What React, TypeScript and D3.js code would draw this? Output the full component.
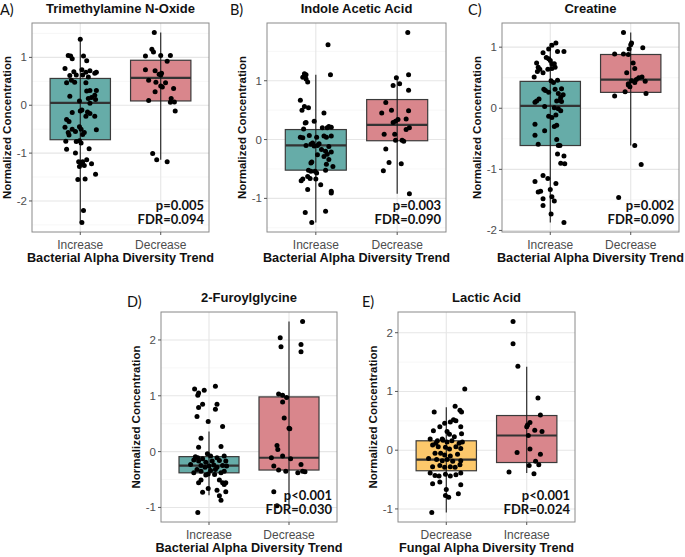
import React from "react";
import * as d3 from "d3";

// ---------- DATA (jitter in category units, value) ----------
const aIncrease: [number, number][] = [
  [0.0, 1.38], [-0.15, 1.04], [-0.12, 1.03], [-0.1, 0.97], [0.04, 1.03], [0.08, 0.93], [-0.19, 0.77], [-0.08, 0.7],
  [0.02, 0.74], [0.07, 0.69], [0.12, 0.72], [0.2, 0.69], [0.18, 0.67], [-0.13, 0.62], [-0.05, 0.63], [0.03, 0.63],
  [0.1, 0.59], [-0.17, 0.47], [-0.11, 0.52], [0.07, 0.47], [-0.07, 0.48], [0.12, 0.31], [0.2, 0.31], [0.08, 0.3],
  [0.18, 0.21], [-0.13, 0.19], [0.14, 0.16], [0.1, 0.14], [0.19, 0.12], [-0.01, 0.09], [0.12, 0.04], [-0.1, -0.15],
  [0.0, -0.12], [0.02, -0.1], [0.09, -0.14], [0.12, -0.17], [0.18, -0.23], [0.07, -0.23], [-0.17, -0.3], [-0.14, -0.34],
  [0.2, -0.51], [-0.19, -0.46], [-0.1, -0.5], [-0.15, -0.57], [-0.14, -0.62], [-0.01, -0.45], [0.01, -0.5], [-0.06, -0.55],
  [0.05, -0.57], [0.03, -0.61], [-0.05, -0.76], [-0.01, -0.74], [0.01, -0.79], [-0.18, -0.75], [-0.17, -0.92], [0.11, -0.91],
  [-0.06, -1.0], [-0.02, -1.18], [0.01, -1.22], [0.03, -1.18], [0.08, -1.14], [-0.01, -1.28], [0.05, -1.26], [0.14, -1.22],
  [0.19, -1.44], [0.06, -1.54], [-0.03, -1.55], [0.04, -2.2], [0.02, -2.45],
];
const aDecrease: [number, number][] = [
  [-0.08, 1.52], [-0.11, 1.17], [-0.09, 1.11], [-0.19, 1.03], [0.0, 1.04], [0.12, 1.04], [0.08, 0.92], [-0.19, 0.74],
  [-0.07, 0.72], [-0.02, 0.65], [0.01, 0.67], [0.0, 0.63], [-0.15, 0.52], [-0.06, 0.48], [0.06, 0.47], [0.0, 0.4],
  [0.02, 0.38], [0.16, 0.35], [-0.07, 0.28], [0.13, 0.14], [-0.15, 0.1], [0.12, 0.06], [0.17, 0.07], [0.18, -0.12],
  [-0.1, -1.01], [-0.05, -1.14], [0.08, -1.18],
];
const bIncrease: [number, number][] = [
  [0.15, 1.61], [-0.14, 1.12], [-0.12, 1.1], [-0.16, 1.06], [-0.12, 1.03], [-0.1, 0.98], [0.18, 1.1], [-0.19, 0.67],
  [-0.14, 0.56], [-0.09, 0.54], [-0.17, 0.5], [0.1, 0.45], [-0.12, 0.29], [-0.13, 0.28], [-0.02, 0.31], [-0.15, 0.18],
  [0.08, 0.2], [0.14, 0.2], [0.19, 0.21], [0.16, 0.22], [-0.19, 0.04], [-0.16, 0.03], [-0.08, 0.07], [0.01, 0.04],
  [0.1, 0.06], [0.13, 0.04], [0.19, 0.06], [-0.12, -0.1], [-0.06, -0.08], [-0.02, -0.11], [0.02, -0.1], [0.04, -0.07],
  [-0.04, -0.06], [0.16, -0.12], [0.07, -0.17], [0.12, -0.2], [0.19, -0.21], [0.14, -0.25], [0.02, -0.26], [0.1, -0.29],
  [-0.05, -0.38], [-0.06, -0.4], [0.16, -0.34], [0.13, -0.42], [0.21, -0.46], [-0.09, -0.52], [-0.06, -0.54], [-0.01, -0.54],
  [0.01, -0.57], [0.12, -0.52], [-0.16, -0.67], [-0.18, -0.7], [-0.1, -0.63], [-0.07, -0.66], [0.0, -0.67], [0.06, -0.77],
  [-0.1, -0.85], [0.19, -0.88], [0.19, -0.91], [-0.13, -1.24], [0.12, -1.22], [-0.05, -1.41],
];
const bDecrease: [number, number][] = [
  [0.13, 1.82], [0.14, 1.1], [-0.01, 1.05], [0.03, 0.95], [-0.05, 0.92], [0.14, 0.84], [-0.14, 0.63], [-0.07, 0.5],
  [0.14, 0.49], [-0.19, 0.45], [0.01, 0.34], [0.11, 0.35], [-0.02, 0.31], [-0.05, 0.29], [0.15, 0.2], [0.11, 0.17],
  [-0.16, 0.09], [-0.03, 0.09], [0.06, -0.01], [0.08, -0.03], [-0.02, -0.01], [-0.14, -0.16], [-0.1, -0.39], [0.05, -0.41],
  [-0.17, -0.53], [0.15, -0.92],
];
const cIncrease: [number, number][] = [
  [0.07, 1.07], [0.02, 1.03], [-0.02, 0.97], [0.09, 0.93], [0.17, 0.93], [-0.09, 0.91], [-0.05, 0.83], [-0.02, 0.81],
  [0.0, 0.78], [-0.17, 0.74], [0.02, 0.73], [0.05, 0.73], [-0.15, 0.67], [-0.13, 0.64], [-0.16, 0.6], [-0.09, 0.58],
  [-0.03, 0.64], [0.02, 0.65], [0.06, 0.67], [-0.2, 0.51], [0.01, 0.45], [0.04, 0.42], [0.09, 0.46], [-0.08, 0.31],
  [-0.06, 0.29], [0.06, 0.31], [0.14, 0.32], [-0.02, 0.26], [0.1, 0.24], [0.16, 0.22], [0.13, 0.18], [0.12, 0.13],
  [-0.14, 0.15], [-0.17, 0.12], [-0.19, 0.1], [0.08, 0.12], [0.14, 0.11], [-0.07, 0.03], [0.05, 0.01], [0.1, -0.01],
  [0.13, -0.04], [-0.02, -0.13], [0.02, -0.15], [0.07, -0.11], [0.08, -0.28], [0.05, -0.3], [-0.19, -0.26], [-0.19, -0.44],
  [-0.07, -0.37], [0.08, -0.51], [-0.15, -0.59], [0.1, -0.61], [0.12, -0.61], [0.09, -0.75], [0.17, -0.78], [0.13, -0.9],
  [0.18, -0.91], [-0.09, -1.1], [-0.19, -1.2], [-0.03, -1.15], [0.07, -1.23], [-0.15, -1.37], [-0.12, -1.36], [-0.09, -1.48],
  [0.0, -1.33], [0.02, -1.45], [0.05, -1.52], [-0.09, -1.59], [0.01, -1.73], [0.17, -1.87],
];
const cDecrease: [number, number][] = [
  [-0.09, 1.24], [0.01, 1.07], [0.0, 1.04], [0.15, 0.99], [-0.2, 0.89], [-0.09, 0.89], [-0.02, 0.97], [-0.03, 0.88],
  [0.03, 0.74], [0.05, 0.65], [-0.05, 0.58], [0.14, 0.51], [0.1, 0.5], [0.07, 0.47], [0.01, 0.45], [0.18, 0.44],
  [0.05, 0.42], [-0.03, 0.4], [-0.01, 0.35], [-0.03, 0.38], [-0.07, 0.27], [0.19, 0.24], [-0.2, 0.2], [0.05, -0.61],
  [0.13, -0.92], [-0.15, -1.46],
];
const dIncrease: [number, number][] = [
  [0.08, 1.17], [-0.18, 1.12], [-0.06, 1.1], [-0.13, 1.05], [-0.14, 1.01], [0.1, 0.85], [-0.08, 0.85], [-0.13, 0.79],
  [0.08, 0.76], [-0.15, 0.63], [-0.01, 0.54], [0.17, 0.45], [-0.1, 0.24], [-0.13, 0.08], [0.15, 0.09], [-0.17, -0.09],
  [-0.14, -0.11], [-0.02, -0.04], [0.02, -0.08], [0.1, -0.11], [0.19, -0.08], [-0.19, -0.15], [-0.13, -0.17], [-0.08, -0.13],
  [-0.04, -0.19], [0.04, -0.17], [0.13, -0.16], [0.21, -0.17], [-0.23, -0.23], [-0.1, -0.25], [-0.05, -0.28], [0.0, -0.26],
  [0.06, -0.24], [0.1, -0.28], [0.17, -0.25], [0.22, -0.26], [-0.15, -0.32], [-0.1, -0.35], [0.02, -0.34], [0.08, -0.32],
  [0.19, -0.35], [-0.19, -0.38], [-0.04, -0.42], [-0.01, -0.4], [0.07, -0.41], [0.15, -0.38], [-0.1, -0.51], [-0.13, -0.56],
  [0.13, -0.51], [0.17, -0.56], [0.19, -0.59], [0.21, -0.56], [-0.01, -0.66], [0.1, -0.69], [0.21, -0.72], [-0.08, -0.73],
  [0.13, -0.79], [0.15, -0.87], [-0.14, -1.09],
];
const dDecrease: [number, number][] = [
  [0.17, 2.33], [-0.11, 2.04], [-0.1, 1.88], [0.15, 1.92], [0.15, 1.79], [-0.13, 1.03], [-0.08, 1.01], [-0.03, 0.97],
  [-0.08, 0.89], [-0.06, 0.6], [0.0, 0.42], [0.01, 0.41], [-0.15, 0.11], [-0.14, 0.04], [-0.08, -0.08], [0.02, -0.13],
  [-0.22, -0.11], [-0.19, -0.26], [-0.13, -0.33], [-0.04, -0.35], [0.11, -0.38], [0.15, -0.23], [0.17, -0.35], [0.2, -0.36],
  [-0.19, -0.72], [-0.15, -0.97],
];
const eDecrease: [number, number][] = [
  [0.23, 1.04], [0.11, 0.75], [-0.15, 0.65], [0.17, 0.68], [0.19, 0.65], [0.09, 0.52], [0.12, 0.5], [-0.02, 0.46],
  [0.05, 0.48], [-0.08, 0.4], [0.18, 0.4], [-0.16, 0.33], [0.01, 0.32], [0.04, 0.27], [0.19, 0.28], [0.1, 0.23],
  [-0.2, 0.19], [-0.05, 0.19], [-0.11, 0.16], [-0.04, 0.17], [-0.13, 0.12], [0.01, 0.14], [0.07, 0.16], [0.16, 0.12],
  [0.2, 0.14], [-0.17, 0.09], [-0.1, 0.06], [-0.01, 0.05], [0.04, 0.02], [0.12, 0.06], [0.18, 0.03], [-0.14, -0.05],
  [-0.07, -0.05], [-0.02, -0.08], [0.05, -0.1], [0.14, -0.07], [-0.22, -0.14], [-0.12, -0.16], [-0.05, -0.18], [0.01, -0.16],
  [0.08, -0.19], [0.18, -0.18], [-0.17, -0.28], [-0.08, -0.26], [-0.02, -0.29], [0.05, -0.28], [0.11, -0.29], [0.17, -0.25],
  [-0.2, -0.39], [-0.14, -0.43], [-0.09, -0.44], [-0.01, -0.41], [0.05, -0.44], [0.12, -0.42], [0.18, -0.39], [-0.17, -0.57],
  [-0.08, -0.54], [0.18, -0.59], [0.0, -0.67], [-0.01, -0.77], [0.03, -0.8], [0.15, -0.74], [-0.18, -1.06],
];
const eIncrease: [number, number][] = [
  [-0.17, 2.19], [-0.17, 1.81], [-0.11, 1.43], [0.14, 0.89], [0.17, 0.6], [0.04, 0.47], [0.01, 0.43], [0.0, 0.4],
  [0.1, 0.34], [0.19, 0.32], [0.02, 0.25], [0.04, 0.02], [-0.12, -0.04], [0.17, -0.07], [0.11, -0.19], [0.15, -0.25],
  [0.03, -0.26], [-0.22, -0.37], [0.09, -0.4],
];

// box statistics: [lower whisker, Q1, median, Q3, upper whisker]
const aIncreaseBox = [-2.45, -0.72, 0.05, 0.56, 1.38];
const aDecreaseBox = [-1.14, 0.09, 0.57, 0.94, 1.52];
const bIncreaseBox = [-1.41, -0.52, -0.1, 0.17, 1.1];
const bDecreaseBox = [-0.92, -0.02, 0.25, 0.68, 1.05];
const cIncreaseBox = [-1.87, -0.61, 0.04, 0.44, 1.07];
const cDecreaseBox = [-0.61, 0.26, 0.47, 0.88, 1.24];
const dIncreaseBox = [-0.78, -0.38, -0.25, -0.09, 0.36];
const dDecreaseBox = [-0.97, -0.33, -0.11, 0.98, 2.33];
const eDecreaseBox = [-1.06, -0.35, -0.16, 0.16, 0.73];
const eIncreaseBox = [-0.39, -0.21, 0.25, 0.59, 1.42];

const bacterialCategories = ["Increase", "Decrease"];
const fungalCategories = ["Decrease", "Increase"];
const yTicksA = [-2, -1, 0, 1];
const yTicksB = [-1, 0, 1];
const yTicksC = [-2, -1, 0, 1];
const yTicksD = [-1, 0, 1, 2];
const yTicksE = [-1, 0, 1, 2];

const TEAL = "#66aca8";
const PINK = "#d9868c";
const YELLOW = "#fcc86b";

type Group = { pts: [number, number][]; box: number[]; fill: string };
type PanelProps = {
  left: number; right: number; top: number; bottom: number;
  letter: string; letterX: number; letterY: number;
  title: string; cats: string[]; groups: Group[]; yTicks: number[];
  xTitle: string; pText: string; fdrText: string;
};

function Panel(p: PanelProps) {
  const all: number[] = [];
  p.groups.forEach((g) => { g.pts.forEach((d) => all.push(d[1])); all.push(g.box[0], g.box[4]); });
  const [mn, mx] = d3.extent(all) as [number, number];
  const pad = (mx - mn) * 0.05;
  const y = d3.scaleLinear().domain([mn - pad, mx + pad]).range([p.bottom, p.top]);
  const x = d3.scaleLinear().domain([0.4, 2.6]).range([p.left, p.right]);
  const minor: number[] = [];
  const step = p.yTicks[1] - p.yTicks[0];
  [p.yTicks[0] - step, ...p.yTicks].forEach((t) => {
    const m = t + step / 2;
    if (m > mn - pad && m < mx + pad) minor.push(m);
  });
  const cx = (p.left + p.right) / 2;
  const cy = (p.top + p.bottom) / 2;
  const bw = x(1.375) - x(1);
  return (
    <g>
      <text x={p.letterX} y={p.letterY} fontFamily="Lato, 'Open Sans', sans-serif" fontSize={14.5} fill="#111">{p.letter}</text>
      <text x={cx} y={p.top - 10} textAnchor="middle" fontFamily="'Liberation Sans', Arial, sans-serif" fontWeight="bold" fontSize={13} fill="#111">{p.title}</text>
      <rect x={p.left} y={p.top} width={p.right - p.left} height={p.bottom - p.top} fill="#fff" />
      {minor.map((m) => (
        <line key={"mi" + m} x1={p.left} x2={p.right} y1={y(m)} y2={y(m)} stroke="#f2f2f2" strokeWidth={0.6} />
      ))}
      {p.yTicks.map((t) => (
        <line key={"ma" + t} x1={p.left} x2={p.right} y1={y(t)} y2={y(t)} stroke="#e6e6e6" strokeWidth={1.1} />
      ))}
      {p.cats.map((c, i) => (
        <line key={"vx" + c} x1={x(i + 1)} x2={x(i + 1)} y1={p.top} y2={p.bottom} stroke="#e6e6e6" strokeWidth={1.1} />
      ))}
      {p.groups.map((g, i) => {
        const c = x(i + 1);
        return (
          <g key={"g" + i}>
            <rect x={c - bw} y={y(g.box[3])} width={bw * 2} height={y(g.box[1]) - y(g.box[3])} fill={g.fill} stroke="#3a3a3a" strokeWidth={1.2} />
            <line x1={c - bw} x2={c + bw} y1={y(g.box[2])} y2={y(g.box[2])} stroke="#333" strokeWidth={2.2} />
            <line x1={c} x2={c} y1={y(g.box[0])} y2={y(g.box[4])} stroke="#1a1a1a" strokeWidth={1.1} />
            {g.pts.map((d, j) => (
              <circle key={j} cx={x(i + 1 + d[0])} cy={y(d[1])} r={2.5} fill="#000" />
            ))}
          </g>
        );
      })}
      <rect x={p.left} y={p.top} width={p.right - p.left} height={p.bottom - p.top} fill="none" stroke="#8a8a8a" strokeWidth={1} />
      {p.yTicks.map((t) => (
        <g key={"yt" + t}>
          <line x1={p.left - 3} x2={p.left} y1={y(t)} y2={y(t)} stroke="#555" strokeWidth={1} />
          <text x={p.left - 5} y={y(t)} dy="0.35em" textAnchor="end" fontFamily="'Liberation Sans', Arial, sans-serif" fontSize={11.5} fill="#4d4d4d">{t}</text>
        </g>
      ))}
      {p.cats.map((c, i) => (
        <g key={"xt" + c}>
          <line x1={x(i + 1)} x2={x(i + 1)} y1={p.bottom} y2={p.bottom + 3} stroke="#555" strokeWidth={1} />
          <text x={x(i + 1)} y={p.bottom + 17} textAnchor="middle" fontFamily="'Liberation Sans', Arial, sans-serif" fontSize={12} fill="#4d4d4d">{c}</text>
        </g>
      ))}
      <text x={cx} y={p.bottom + 30} textAnchor="middle" fontFamily="'Liberation Sans', Arial, sans-serif" fontWeight="bold" fontSize={12.7} fill="#111">{p.xTitle}</text>
      <text transform={`translate(${p.left - 25},${cy}) rotate(-90)`} dy="0.35em" textAnchor="middle" fontFamily="'Liberation Sans', Arial, sans-serif" fontWeight="bold" fontSize={11.5} fill="#111">Normalized Concentration</text>
      <text x={p.right - 5} y={p.bottom - 22.5} textAnchor="end" fontFamily="Lato, sans-serif" fontWeight="bold" fontSize={13} fill="#111">{p.pText}</text>
      <text x={p.right - 5} y={p.bottom - 8} textAnchor="end" fontFamily="Lato, sans-serif" fontWeight="bold" fontSize={13} fill="#111">{p.fdrText}</text>
    </g>
  );
}

export default function App() {
  const bx = "Bacterial Alpha Diversity Trend";
  return (
    <svg width={685} height={557} style={{ position: "absolute", left: 0, top: 0, background: "#fff" }}>
      <rect width={685} height={557} fill="#fff" />
      <Panel left={32} right={209} top={23} bottom={232} letter="A)" letterX={0} letterY={15}
        title="Trimethylamine N-Oxide" cats={bacterialCategories} yTicks={yTicksA} xTitle={bx}
        groups={[{ pts: aIncrease, box: aIncreaseBox, fill: TEAL }, { pts: aDecrease, box: aDecreaseBox, fill: PINK }]}
        pText="p=0.005" fdrText="FDR=0.094" />
      <Panel left={267} right={446} top={23} bottom={232} letter="B)" letterX={230} letterY={15}
        title="Indole Acetic Acid" cats={bacterialCategories} yTicks={yTicksB} xTitle={bx}
        groups={[{ pts: bIncrease, box: bIncreaseBox, fill: TEAL }, { pts: bDecrease, box: bDecreaseBox, fill: PINK }]}
        pText="p=0.003" fdrText="FDR=0.090" />
      <Panel left={502} right={679} top={23} bottom={232} letter="C)" letterX={468} letterY={15}
        title="Creatine" cats={bacterialCategories} yTicks={yTicksC} xTitle={bx}
        groups={[{ pts: cIncrease, box: cIncreaseBox, fill: TEAL }, { pts: cDecrease, box: cDecreaseBox, fill: PINK }]}
        pText="p=0.002" fdrText="FDR=0.090" />
      <Panel left={161} right={337} top={312} bottom={522} letter="D)" letterX={127} letterY={307}
        title="2-Furoylglycine" cats={bacterialCategories} yTicks={yTicksD} xTitle={bx}
        groups={[{ pts: dIncrease, box: dIncreaseBox, fill: TEAL }, { pts: dDecrease, box: dDecreaseBox, fill: PINK }]}
        pText="p<0.001" fdrText="FDR=0.030" />
      <Panel left={398} right={575} top={312} bottom={522} letter="E)" letterX={362} letterY={307}
        title="Lactic Acid" cats={fungalCategories} yTicks={yTicksE} xTitle="Fungal Alpha Diversity Trend"
        groups={[{ pts: eDecrease, box: eDecreaseBox, fill: YELLOW }, { pts: eIncrease, box: eIncreaseBox, fill: PINK }]}
        pText="p<0.001" fdrText="FDR=0.024" />
    </svg>
  );
}
